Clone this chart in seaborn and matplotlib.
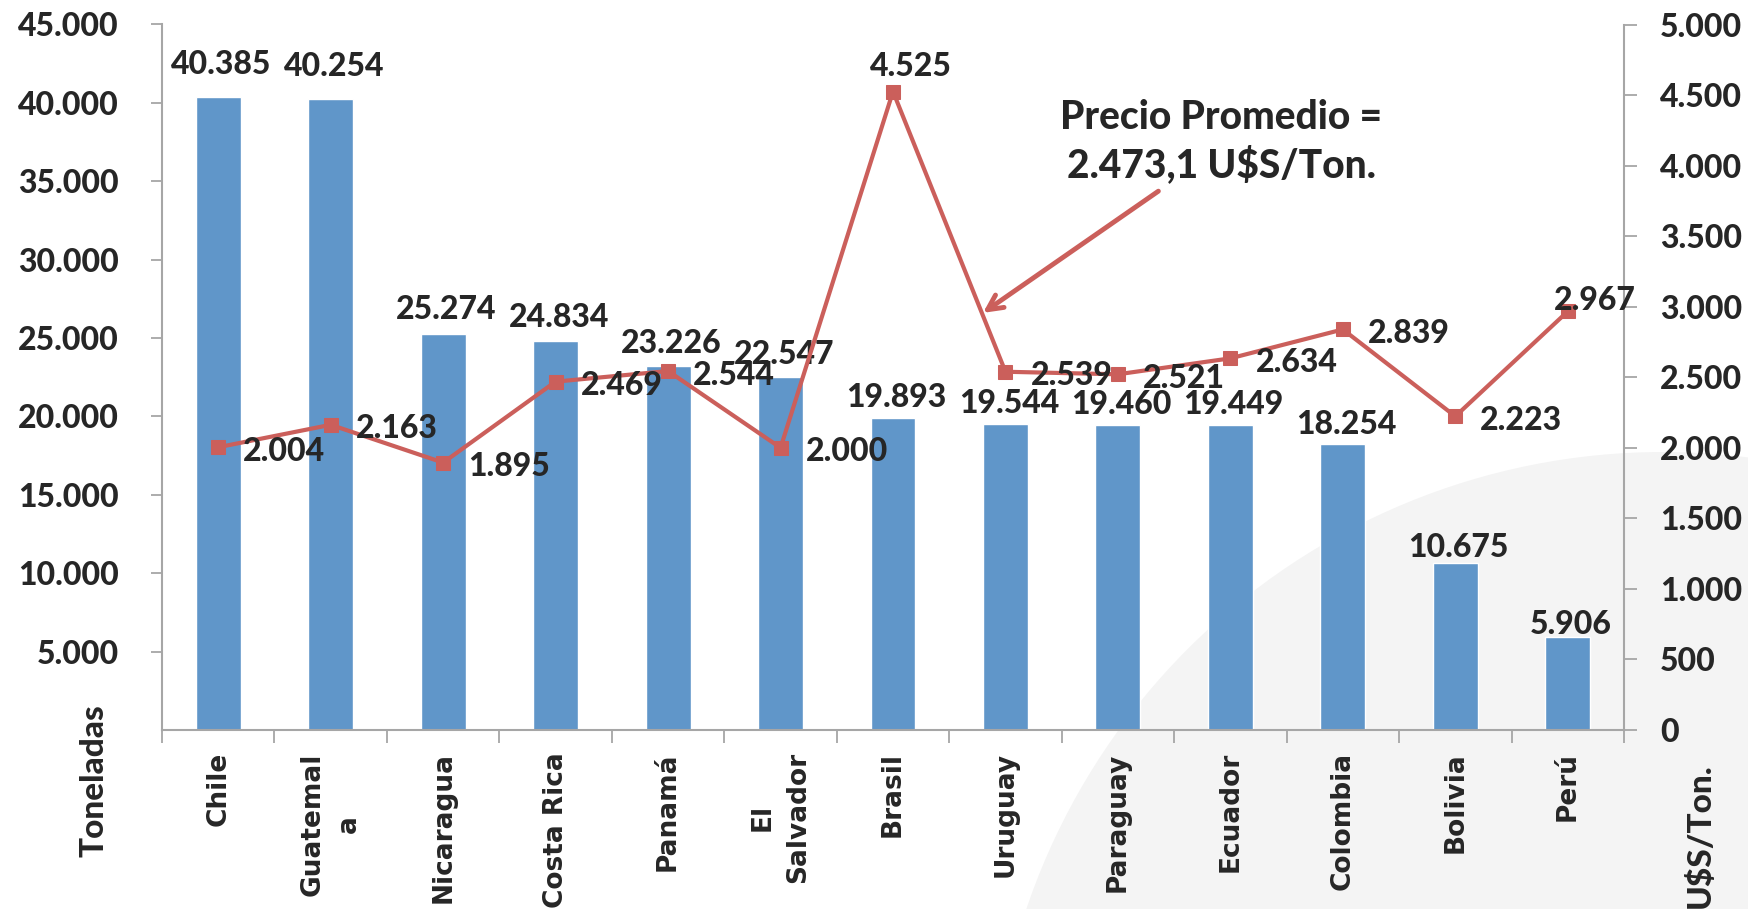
import matplotlib
matplotlib.use("Agg")
import matplotlib.pyplot as plt
import numpy as np
import pandas as pd
import seaborn as sns
from matplotlib.patches import Ellipse

countries = ["Chile", "Guatemal\na", "Nicaragua", "Costa Rica", "Panamá", "El\nSalvador",
             "Brasil", "Uruguay", "Paraguay", "Ecuador", "Colombia", "Bolivia", "Perú"]
toneladas = [40385, 40254, 25274, 24834, 23226, 22547, 19893, 19544, 19460, 19449, 18254, 10675, 5906]
precio = [2004, 2163, 1895, 2469, 2544, 2000, 4525, 2539, 2521, 2634, 2839, 2223, 2967]
left_ticks = [5000, 10000, 15000, 20000, 25000, 30000, 35000, 40000, 45000]
right_ticks = [0, 500, 1000, 1500, 2000, 2500, 3000, 3500, 4000, 4500, 5000]
note = "Precio Promedio =\n2.473,1 U$S/Ton."

BAR = "#6096C9"
RED = "#CB5F5B"
GRAY = "#A6A6A6"
CAL = ["Lato", "DejaVu Sans"]  # stands in for Calibri
HEAVY = 900


def fmt(v):
    return f"{v:,}".replace(",", ".")


sns.set_theme(style="white")
plt.rcParams["font.family"] = ["DejaVu Sans"]
plt.rcParams["font.weight"] = "bold"

df = pd.DataFrame({"pos": np.arange(len(countries)), "pais": countries,
                   "ton": toneladas, "precio": precio})

W, H = 1748, 909
fig = plt.figure(figsize=(W / 100, H / 100), dpi=100)
fig.patch.set_facecolor("white")
# faint logo watermark in the lower right corner
fig.add_artist(Ellipse((1663 / W, 1 - 1124 / H), 2 * 672 / W, 2 * 672 / H,
                       transform=fig.transFigure, facecolor="#F4F4F4",
                       edgecolor="none", zorder=-5))

ax = fig.add_axes([162 / W, 1 - 730 / H, (1624 - 162) / W, (730 - 24.5) / H])
ax.patch.set_alpha(0)
sns.barplot(data=df, x="pos", y="ton", color=BAR, width=0.4, saturation=1,
            native_scale=True, ax=ax, zorder=2)
ax.set_xlim(-0.5, len(countries) - 0.5)
ax.set_ylim(0, 45000)
ax.set_yticks(left_ticks)
ax.set_yticklabels([fmt(t) for t in left_ticks], family=CAL, fontsize=23, fontweight=HEAVY)
ax.set_xticks(df["pos"])
ax.set_xticklabels(countries, rotation=90, ha="center", va="top", fontsize=19)
for lab in ax.get_xticklabels():
    lab.set_linespacing(1.5)
ax.set_xticks(np.arange(-0.5, len(countries), 1), minor=True)
ax.tick_params(axis="x", which="major", length=0, pad=16)
ax.tick_params(axis="x", which="minor", length=9, width=1.3, color=GRAY, direction="out", bottom=True)
ax.tick_params(axis="y", length=8, width=1.3, color=GRAY, direction="out", left=True, pad=23)
ax.set_xlabel("")
ax.set_ylabel("")
for s in ["top", "right"]:
    ax.spines[s].set_visible(False)
for s in ["left", "bottom"]:
    ax.spines[s].set_color(GRAY)
    ax.spines[s].set_linewidth(1.5)

# Excel placed the bar labels a bit higher than the bar tops
for x, v in zip(df["pos"], toneladas):
    ax.text(x + 0.03, v * 1.036, fmt(v), ha="center", va="baseline",
            fontsize=23, fontweight=HEAVY, family=CAL, zorder=5)

ax2 = ax.twinx()
sns.lineplot(data=df, x="pos", y="precio", color=RED, linewidth=3, marker="s",
             markersize=10, markeredgecolor=RED, ax=ax2, zorder=3)
ax2.set_ylim(0, 5000)
ax2.set_yticks(right_ticks)
ax2.set_yticklabels([fmt(t) for t in right_ticks], family=CAL, fontsize=23, fontweight=HEAVY)
ax2.tick_params(axis="y", length=9, width=1.3, color=GRAY, direction="out", right=True, pad=17)
ax2.set_ylabel("")
ax2.set_xlabel("")
for s in ["top", "left", "bottom"]:
    ax2.spines[s].set_visible(False)
ax2.spines["right"].set_color(GRAY)
ax2.spines["right"].set_linewidth(1.5)

offsets = {6: (13, 11, "center", "baseline"), 12: (-10, 1, "left", "baseline")}
for x, v in zip(df["pos"], precio):
    dx, dy, ha, va = offsets.get(x, (18, -3, "left", "center"))
    ax2.annotate(fmt(v), (x, v), xytext=(dx, dy), textcoords="offset points",
                 ha=ha, va=va, fontsize=23, fontweight=HEAVY, family=CAL, zorder=6)

ax2.annotate("", xy=(6.78, 2945), xytext=(8.38, 3830),
             arrowprops=dict(arrowstyle="->,head_length=0.9,head_width=0.45", color=RED, lw=3.5))
ax2.text(8.92, 4170, note, ha="center", va="center", fontsize=28, fontweight=HEAVY,
         family=CAL, linespacing=1.3)

fig.text(94 / W, 1 - 781 / H, "Toneladas", rotation=90, ha="center", va="center",
         fontsize=24, fontweight=HEAVY, family=CAL)
fig.text(1700 / W, 1 - 836 / H, "U$S/Ton.", rotation=90, ha="center", va="center",
         fontsize=24, fontweight=HEAVY, family=CAL)

fig.savefig("out.png", dpi=100)
